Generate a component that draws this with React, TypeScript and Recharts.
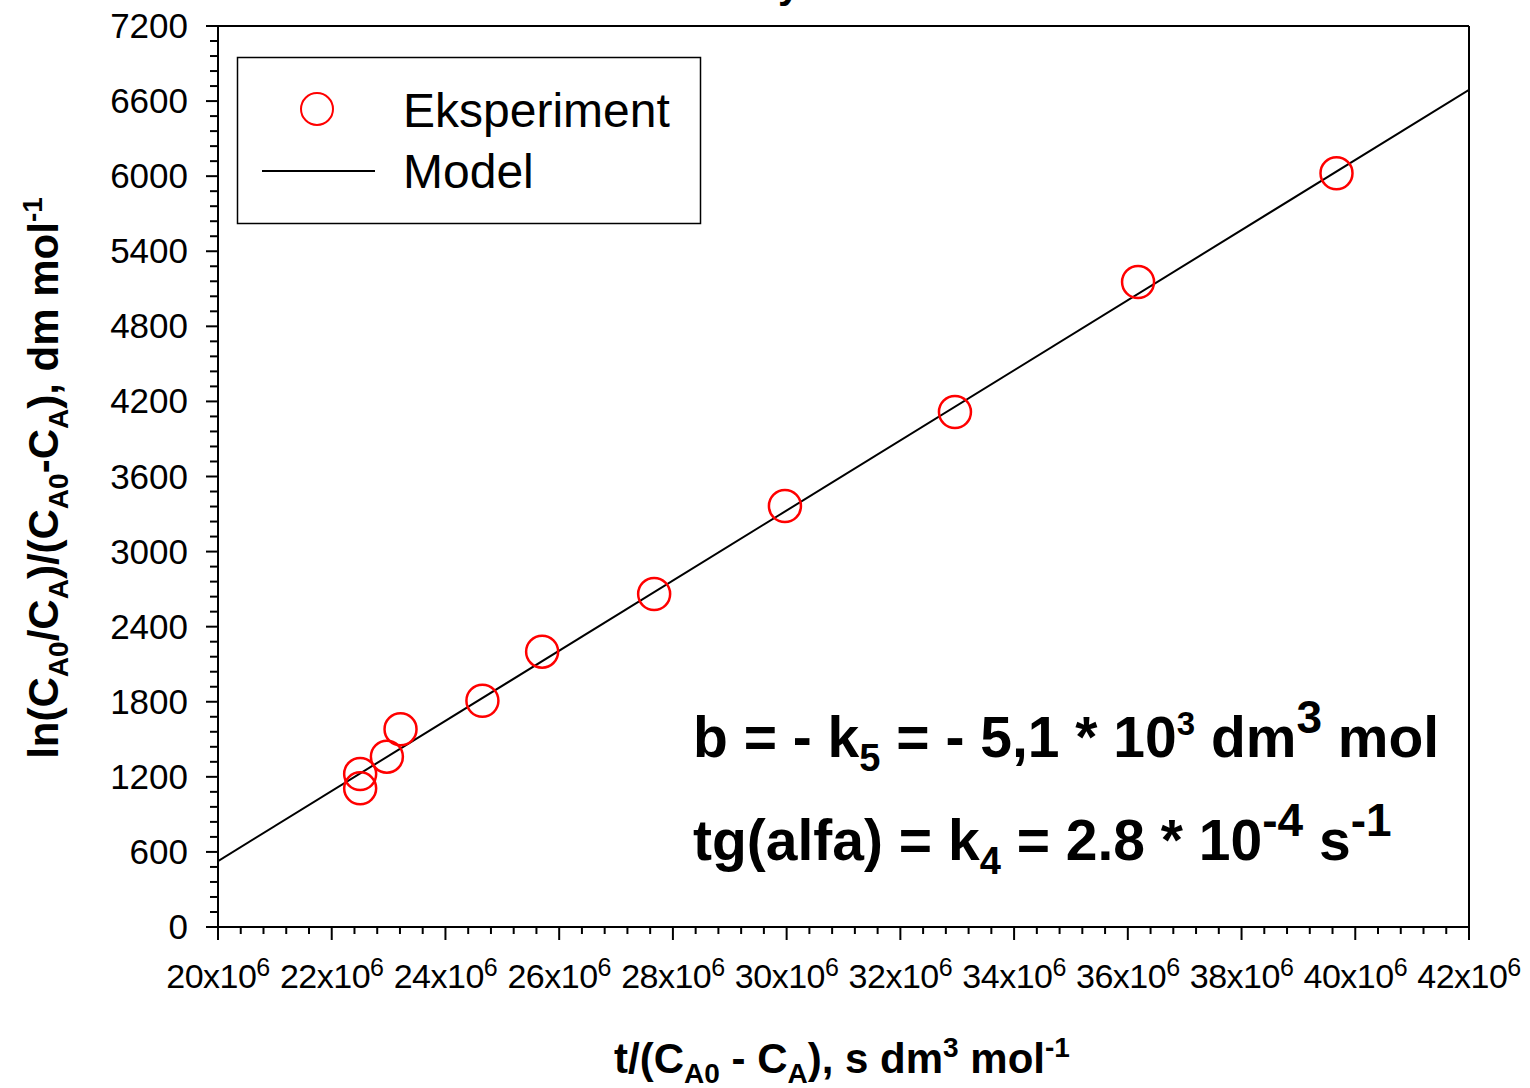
import React from 'react';
import {
  ScatterChart,
  Scatter,
  XAxis,
  YAxis,
  ReferenceLine
} from 'recharts';

// measured points (t/(CA0-CA) vs ln term)
const expX = [22.5e6, 22.5e6, 22.97e6, 23.21e6, 24.65e6, 25.7e6, 27.67e6, 29.97e6, 32.96e6, 36.18e6, 39.67e6];
const expY = [1108, 1223, 1361, 1580, 1808, 2200, 2661, 3364, 4115, 5154, 6023];

// model line end points
const modelX = [20e6, 42e6];
const modelY = [527, 6690];

const xMajorTicks = [20e6, 22e6, 24e6, 26e6, 28e6, 30e6, 32e6, 34e6, 36e6, 38e6, 40e6, 42e6];
const yMajorTicks = [0, 600, 1200, 1800, 2400, 3000, 3600, 4200, 4800, 5400, 6000, 6600, 7200];

const FONT = '"Liberation Sans", Arial, sans-serif';

const subdivide = (major: number[], parts: number) => {
  const out: number[] = [];
  for (let i = 0; i < major.length - 1; i++) {
    const step = (major[i + 1] - major[i]) / parts;
    for (let k = 0; k < parts; k++) out.push(major[i] + k * step);
  }
  out.push(major[major.length - 1]);
  return out;
};

const xTicks = subdivide(xMajorTicks, 5);
const yTicks = subdivide(yMajorTicks, 5);

const expData = expX.map((x, i) => ({ x, y: expY[i] }));
const modelData = modelX.map((x, i) => ({ x, y: modelY[i] }));

const isMajor = (v: number, list: number[]) => list.some((m) => Math.abs(m - v) < 1e-3 * (Math.abs(m) + 1));

const XTick = (props: any) => {
  const { x, y, payload } = props;
  const v = payload.value;
  const major = isMajor(v, xMajorTicks);
  return (
    <g>
      <line x1={x} x2={x} y1={y} y2={y + (major ? 13 : 7)} stroke="#000" strokeWidth={2} />
      {major && (
        <text x={x} y={y + 61} textAnchor="middle" fontSize={34} fontFamily={FONT} fill="#000" letterSpacing={-0.5}>
          {`${Math.round(v / 1e6)}x10`}
          <tspan dy={-12} fontSize={25}>6</tspan>
        </text>
      )}
    </g>
  );
};

const YTick = (props: any) => {
  const { x, y, payload } = props;
  const v = payload.value;
  const major = isMajor(v, yMajorTicks);
  return (
    <g>
      <line x1={x} x2={x - (major ? 12 : 8)} y1={y} y2={y} stroke="#000" strokeWidth={2} />
      {major && (
        <text x={x - 30} y={y + 12} textAnchor="end" fontSize={35} fontFamily={FONT} fill="#000">
          {v}
        </text>
      )}
    </g>
  );
};

const RedCircle = (props: any) => (
  <circle cx={props.cx} cy={props.cy} r={16} fill="none" stroke="#ff0000" strokeWidth={2.5} />
);

const NoShape = () => <g />;

export default function App() {
  return (
    <div style={{ position: 'absolute', left: 0, top: 0, width: 1530, height: 1088, background: '#fff' }}>
      <ScatterChart width={1530} height={1088} margin={{ top: 26, right: 61, bottom: 101, left: 118 }}>
        <XAxis
          type="number"
          dataKey="x"
          domain={[20e6, 42e6]}
          ticks={xTicks}
          interval={0}
          height={60}
          tickSize={0}
          tickMargin={0}
          tickLine={false}
          tick={<XTick />}
          axisLine={{ stroke: '#000', strokeWidth: 2 }}
          allowDataOverflow
        />
        <YAxis
          type="number"
          dataKey="y"
          domain={[0, 7200]}
          ticks={yTicks}
          interval={0}
          width={100}
          tickSize={0}
          tickMargin={0}
          tickLine={false}
          tick={<YTick />}
          axisLine={{ stroke: '#000', strokeWidth: 2 }}
          allowDataOverflow
        />
        <ReferenceLine y={7200} stroke="#000" strokeWidth={2} />
        <ReferenceLine x={42e6} stroke="#000" strokeWidth={2} />
        <Scatter
          data={modelData}
          line={{ stroke: '#000', strokeWidth: 2 }}
          shape={<NoShape />}
          isAnimationActive={false}
        />
        <Scatter data={expData} shape={<RedCircle />} isAnimationActive={false} />
      </ScatterChart>

      <svg
        width={1530}
        height={1088}
        style={{ position: 'absolute', left: 0, top: 0, pointerEvents: 'none' }}
        fontFamily={FONT}
      >
        {/* title remnant, cut by the top edge as in the source */}
        <text x={789} y={-2} textAnchor="middle" fontSize={40} fontWeight="bold">y</text>

        {/* legend */}
        <rect x={237.5} y={57.5} width={463} height={166} fill="#fff" stroke="#000" strokeWidth={1.5} />
        <circle cx={317} cy={109} r={16} fill="none" stroke="#ff0000" strokeWidth={2} />
        <text x={403} y={127} fontSize={48}>Eksperiment</text>
        <line x1={262} x2={375} y1={171} y2={171} stroke="#000" strokeWidth={2} />
        <text x={403} y={188} fontSize={48}>Model</text>

        {/* annotations */}
        <text x={693} y={757} fontSize={57} fontWeight="bold">
          b = - k<tspan dy={14} fontSize={38}>5</tspan>
          <tspan dy={-14}> = - 5,1 * 10</tspan>
          <tspan dy={-22} fontSize={33}>3</tspan>
          <tspan dy={22}> dm</tspan>
          <tspan dy={-24} fontSize={46}>3</tspan>
          <tspan dy={24}> mol</tspan>
        </text>
        <text x={693} y={860} fontSize={57} fontWeight="bold">
          tg(alfa) = k<tspan dy={14} fontSize={38}>4</tspan>
          <tspan dy={-14}> = 2.8 * 10</tspan>
          <tspan dy={-24} fontSize={46}>-4</tspan>
          <tspan dy={24}> s</tspan>
          <tspan dy={-24} fontSize={46}>-1</tspan>
        </text>

        {/* x axis title */}
        <text x={842} y={1073} textAnchor="middle" fontSize={42} fontWeight="bold">
          t/(C<tspan dy={10} fontSize={28}>A0</tspan>
          <tspan dy={-10}> - C</tspan>
          <tspan dy={10} fontSize={28}>A</tspan>
          <tspan dy={-10}>), s dm</tspan>
          <tspan dy={-16} fontSize={28}>3</tspan>
          <tspan dy={16}> mol</tspan>
          <tspan dy={-16} fontSize={28}>-1</tspan>
        </text>

        {/* y axis title */}
        <text transform="translate(58,478) rotate(-90)" textAnchor="middle" fontSize={42} fontWeight="bold">
          ln(C<tspan dy={10} fontSize={28}>A0</tspan>
          <tspan dy={-10}>/C</tspan>
          <tspan dy={10} fontSize={28}>A</tspan>
          <tspan dy={-10}>)/(C</tspan>
          <tspan dy={10} fontSize={28}>A0</tspan>
          <tspan dy={-10}>-C</tspan>
          <tspan dy={10} fontSize={28}>A</tspan>
          <tspan dy={-10}>), dm mol</tspan>
          <tspan dy={-16} fontSize={28}>-1</tspan>
        </text>
      </svg>
    </div>
  );
}
